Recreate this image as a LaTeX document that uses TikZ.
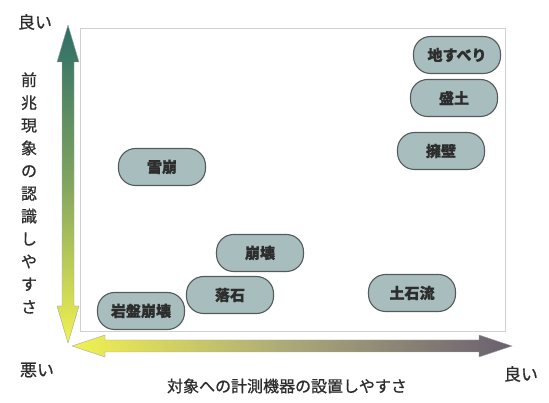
\documentclass[tikz,border=0pt]{standalone}
\usepackage{fontspec}
\newfontfamily\jp{Noto Sans CJK JP}
\newfontfamily\jpm{Noto Sans CJK JP}[FakeBold=0.8]
\newfontfamily\jpb{Noto Sans CJK JP}[BoldFeatures={FakeBold=1}]
\usetikzlibrary{shadings}
\definecolor{pillfill}{RGB}{168,190,190}
\definecolor{pilldraw}{RGB}{85,90,90}
\definecolor{txt}{RGB}{45,45,45}
\definecolor{teal1}{RGB}{45,110,105}
\definecolor{ylw}{RGB}{242,242,80}
\definecolor{grn}{RGB}{130,165,95}
\definecolor{purp}{RGB}{105,95,112}
\definecolor{olv}{RGB}{170,168,120}
\begin{document}
\begin{tikzpicture}[x=1pt,y=-1pt,
  pill/.style={draw=pilldraw, line width=1.1pt, fill=pillfill, rounded corners=17pt,
    minimum width=87pt, minimum height=37pt, inner sep=0pt,
    font=\jpb\bfseries\fontsize{15}{16}\selectfont, text=txt},
  axlab/.style={font=\jpm\fontsize{17}{18}\selectfont, text=txt, inner sep=0pt},
  frame/.style={draw=black!18, line width=0.8pt}]
\useasboundingbox (0,0) rectangle (549,403);
% frame
\draw[frame] (80,28) rectangle (505,331);
% vertical double arrow
\shade[top color=teal1, bottom color=ylw, middle color=grn, draw=black!35, line width=0.4pt]
  (68,25) -- (79,62) -- (74,62) -- (74,306) -- (79,306) -- (68,343)
  -- (57,306) -- (62,306) -- (62,62) -- (57,62) -- cycle;
% horizontal double arrow
\shade[left color=ylw, right color=purp, middle color=olv, draw=black!35, line width=0.4pt]
  (72,346) -- (105,335) -- (105,340) -- (479,340) -- (479,335) -- (512,346)
  -- (479,357) -- (479,352) -- (105,352) -- (105,357) -- cycle;
% axis labels
\node[axlab] (good1) at (35,22) {良い};
\node[axlab] (bad) at (37,370) {悪い};
\node[axlab] (good2) at (521,374) {良い};
\node[axlab, font=\jpm\fontsize{16}{16}\selectfont] (xlab) at (287,386) {対象への計測機器の設置しやすさ};
\node[axlab, align=center, font=\jpm\fontsize{16}{22.7}\selectfont] (ylab) at (29,193)
  {前\\兆\\現\\象\\の\\認\\識\\し\\や\\す\\さ};
% pills
\node[pill] (n1) at (162,167) {雪崩};
\node[pill] (n2) at (260,253) {崩壊};
\node[pill] (n3) at (230,295) {落石};
\node[pill] (n4) at (141,311) {岩盤崩壊};
\node[pill] (n5) at (457,55) {地すべり};
\node[pill] (n6) at (454,98) {盛土};
\node[pill] (n7) at (441,151) {擁壁};
\node[pill] (n8) at (412,293) {土石流};
\end{tikzpicture}
\end{document}
